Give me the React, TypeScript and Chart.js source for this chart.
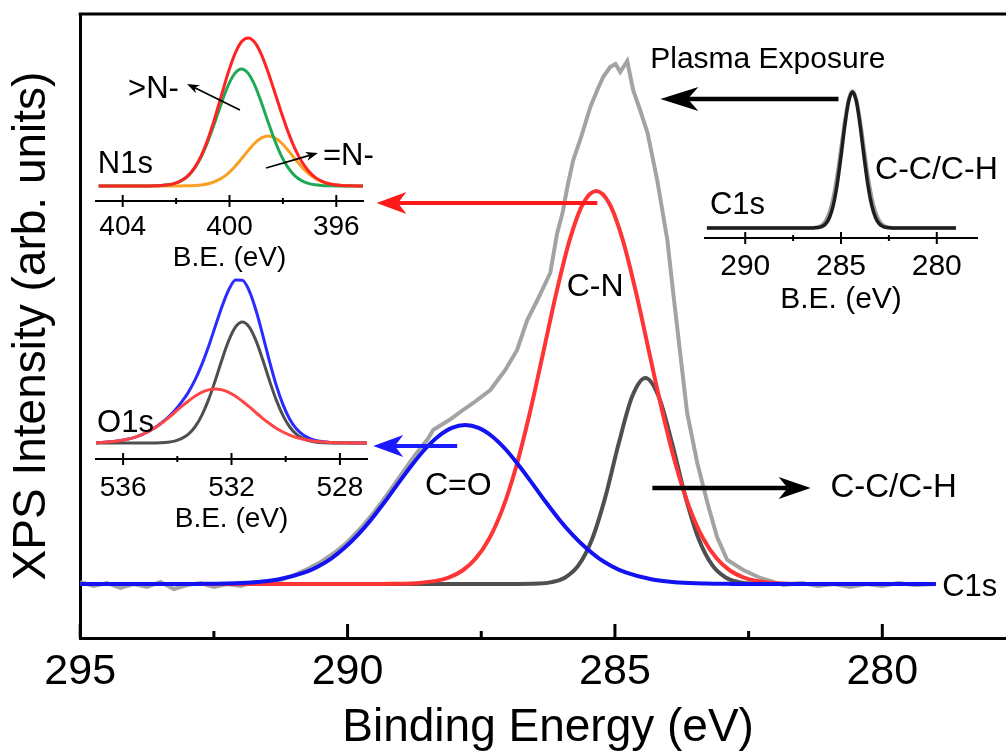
import React, { useEffect, useRef } from 'react';
import { Chart, registerables } from 'chart.js';
Chart.register(...registerables);

const FONT = '"Liberation Sans", Arial, Helvetica, sans-serif';
Chart.defaults.font.family = FONT;
Chart.defaults.color = '#000';

// ---------- Main C1s spectrum (binding energy in eV, intensity in arb. units) ----------
const rawBE = [295.00,294.75,294.50,294.25,294.00,293.75,293.50,293.25,293.00,292.75,292.50,292.25,292.00,291.75,291.50,291.25,291.00,290.75,290.50,290.25,290.00,289.75,289.50,289.25,289.00,288.75,288.50,288.40,288.10,287.84,287.65,287.33,287.05,286.83,286.64,286.45,286.21,286.08,285.98,285.89,285.78,285.65,285.46,285.33,285.22,285.09,284.99,284.90,284.77,284.66,284.53,284.39,284.21,284.02,283.91,283.83,283.65,283.46,283.27,283.09,282.90,282.60,282.28,281.85,281.50,281.20,280.90,280.60,280.30,280.00,279.70,279.40,279.00];
const rawI = [2,-2,1,-4,0,-3,2,-5,-1,1,-3,0,-2,2,1,4,9,15,22,31,42,56,72,90,109,128,145,154,164,174,181,194,214,234,264,284,311,351,371,397,424,444,477,494,507,517,520,512,523,494,474,451,404,344,291,254,171,121,81,47,24,14,6,-1,1,-2,0,-3,0,-2,1,-1,0];

const coBE = [295.0,293.0,292.8,292.3,291.8,291.3,290.8,290.55,290.3,290.05,289.8,289.55,289.3,289.05,288.8,288.55,288.3,288.05,287.8,287.55,287.3,287.05,286.8,286.55,286.3,286.05,285.8,285.55,285.3,285.05,284.8,284.3,283.8,283.3,282.8,282.0,279.0];
const coI = [0,0,0.1,0.4,1.5,4.5,11.6,17.6,25.7,36.4,49.6,65.1,82.5,100.9,118.8,135.0,147.8,156.1,159,156.1,147.8,135.0,118.8,100.9,82.5,65.1,49.6,36.4,25.7,17.6,11.6,4.5,1.5,0.4,0.1,0,0];

const cnBE = [295.0,290.0,289.35,288.85,288.35,288.10,287.85,287.60,287.35,287.10,286.85,286.60,286.35,286.10,285.85,285.60,285.35,285.10,284.85,284.60,284.35,284.10,283.85,283.60,283.35,283.10,282.85,282.60,282.35,281.85,281.35,279.0];
const cnI = [0,0,0.1,0.5,3.1,6.7,13.5,25.7,45.5,75.4,116.8,169.3,229.2,290.2,343.4,380.0,393,380.0,343.4,290.2,229.2,169.3,116.8,75.4,45.5,25.7,13.5,6.7,3.1,0.5,0.1,0];

const ccBE = [295.0,287.0,286.43,286.18,285.93,285.68,285.43,285.18,284.93,284.68,284.43,284.18,283.93,283.68,283.43,283.18,282.93,282.68,282.43,281.8,279.0];
const ccI = [0,0,0.4,1.9,6.5,18.8,44.5,86.9,140.4,187.2,206,187.2,140.4,86.9,44.5,18.8,6.5,1.9,0.4,0,0];

const mainMajorTicks = [295, 290, 285, 280];
const mainMinorTicks = [292.5, 287.5, 282.5];

// ---------- N1s inset ----------
const n1BE = [404.9,403.55,403.05,402.80,402.55,402.30,402.05,401.80,401.55,401.30,401.05,400.80,400.55,400.30,400.05,399.80,399.55,399.30,399.05,398.80,398.55,398.30,398.05,397.80,397.55,397.30,397.05,396.80,396.55,396.30,396.05,395.80,395.55,395.0];
const n1GreenI = [0,0,0.1,0.2,0.5,1.2,2.6,5.4,10.2,18.1,29.7,45.2,63.6,83.1,100.5,112.6,117,112.6,100.5,83.1,63.6,45.2,29.7,18.1,10.2,5.4,2.6,1.2,0.5,0.2,0.1,0,0,0];
const n1OrangeI = [0,0,0,0,0,0,0,0.1,0.2,0.5,1.1,2.3,4.4,7.7,12.7,19.3,27.2,35.5,43.0,48.1,50,48.1,43.0,35.5,27.2,19.3,12.7,7.7,4.4,2.3,1.1,0.5,0.2,0];
const n1RedI = [0,0,0.1,0.2,0.5,1.2,2.6,5.5,10.4,18.6,30.8,47.5,68.0,90.8,113.2,131.9,144.2,148.1,143.5,131.2,113.6,93.3,72.7,53.6,37.4,24.7,15.3,8.9,4.9,2.5,1.2,0.5,0.2,0];
const n1MajorTicks = [404, 400, 396];
const n1MinorTicks = [402, 398];

// ---------- O1s inset ----------
const o1BE = [537.0,536.85,536.60,536.35,536.10,535.85,535.60,535.35,535.10,534.85,534.60,534.35,534.10,533.85,533.60,533.35,533.10,532.85,532.60,532.35,532.10,531.85,531.60,531.35,531.10,530.85,530.60,530.35,530.10,529.85,529.60,529.35,529.10,528.85,528.60,528.35,528.10,527.85,527.60,527.0];
const o1BlueI = [0.3,0.5,0.9,1.5,2.4,3.7,5.4,7.8,11.0,14.9,19.8,25.5,32.3,40.6,50.4,62.8,78.1,96.2,116.5,136.6,153.3,162.9,162.8,152.4,133.0,108.2,82.0,57.9,38.4,23.8,14.0,8.0,4.3,2.3,1.2,0.6,0.3,0.2,0.1,0];
const o1GreyI = [0,0,0,0,0,0,0,0,0,0.1,0.3,0.8,1.9,4.3,8.6,16.0,27.4,43.1,62.5,83.5,102.6,116.1,121,116.1,102.6,83.5,62.5,43.1,27.4,16.0,8.6,4.3,1.9,0.8,0.3,0.1,0,0,0,0];
const o1RedI = [0.3,0.5,0.9,1.5,2.4,3.7,5.4,7.8,11.0,14.8,19.5,24.7,30.4,36.3,41.8,46.8,50.7,53.1,54,53.1,50.7,46.8,41.8,36.3,30.4,24.7,19.5,14.8,11.0,7.8,5.4,3.7,2.4,1.5,0.9,0.5,0.3,0.2,0.1,0];
const o1MajorTicks = [536, 532, 528];
const o1MinorTicks = [534, 530];

// ---------- C1s inset (before plasma exposure) ----------
const c1BE = [292.0,287.0,286.6,286.4,286.2,286.0,285.8,285.6,285.4,285.2,285.0,284.8,284.6,284.4,284.2,284.0,283.8,283.6,283.4,283.2,283.0,282.8,282.6,282.4,282.2,281.8,279.0];
const c1FitI = [0,0,0,0.1,0.4,1.4,4.1,10.5,22.9,43.5,71.6,102.3,126.6,136,126.6,102.3,71.6,43.5,22.9,10.5,4.1,1.4,0.4,0.1,0,0,0];
const c1RawI = [0,0,0.1,0.4,1.1,3.0,7.4,16.1,31.0,52.9,80.2,108.0,129.1,137,129.1,108.0,80.2,52.9,31.0,16.1,7.4,3.0,1.1,0.4,0.1,0,0];
const c1MajorTicks = [290, 285, 280];
const c1MinorTicks = [287.5, 282.5];

const pts = (xs: number[], ys: number[]) => xs.map((x, i) => ({ x, y: ys[i] }));

function line(data: any, color: string, width: number, order: number, smooth = true) {
  return {
    data,
    borderColor: color,
    borderWidth: width,
    pointRadius: 0,
    fill: false,
    order,
    tension: 0,
    cubicInterpolationMode: smooth ? 'monotone' : 'default',
  };
}

function drawArrow(ctx: CanvasRenderingContext2D, x1: number, y1: number, x2: number, y2: number, color: string, lw: number, hl: number, hw: number) {
  const dx = x2 - x1, dy = y2 - y1;
  const len = Math.hypot(dx, dy);
  const ux = dx / len, uy = dy / len;
  const nx = -uy, ny = ux;
  const bx = x2 - ux * hl, by = y2 - uy * hl;
  const mx = x2 - ux * hl * 0.72, my = y2 - uy * hl * 0.72;
  ctx.save();
  ctx.strokeStyle = color;
  ctx.fillStyle = color;
  ctx.lineWidth = lw;
  ctx.beginPath();
  ctx.moveTo(x1, y1);
  ctx.lineTo(mx, my);
  ctx.stroke();
  ctx.beginPath();
  ctx.moveTo(x2, y2);
  ctx.lineTo(bx + nx * hw, by + ny * hw);
  ctx.lineTo(mx, my);
  ctx.lineTo(bx - nx * hw, by - ny * hw);
  ctx.closePath();
  ctx.fill();
  ctx.restore();
}

type Note =
  | { kind: 'text'; x: number; y: number; text: string; size: number; align?: CanvasTextAlign }
  | { kind: 'arrow'; x1: number; y1: number; x2: number; y2: number; color: string; lw: number; hl: number; hw: number };

function makeNotes(items: Note[]) {
  return {
    id: 'notes',
    afterDraw(chart: any) {
      const { ctx } = chart;
      const xs = chart.scales.x, ys = chart.scales.y;
      for (const it of items) {
        if (it.kind === 'text') {
          ctx.save();
          ctx.font = `${it.size}px ${FONT}`;
          ctx.fillStyle = '#000';
          ctx.textAlign = it.align || 'left';
          ctx.textBaseline = 'middle';
          ctx.fillText(it.text, xs.getPixelForValue(it.x), ys.getPixelForValue(it.y));
          ctx.restore();
        } else {
          drawArrow(ctx, xs.getPixelForValue(it.x1), ys.getPixelForValue(it.y1), xs.getPixelForValue(it.x2), ys.getPixelForValue(it.y2), it.color, it.lw, it.hl, it.hw);
        }
      }
    },
  };
}

function makeTicks(major: number[], minor: number[], majUp: number, majDown: number, minUp: number, minDown: number, width: number) {
  return {
    id: 'inTicks',
    afterDraw(chart: any) {
      const { ctx, chartArea } = chart;
      const xs = chart.scales.x;
      const y0 = chartArea.bottom;
      ctx.save();
      ctx.strokeStyle = '#000';
      ctx.lineWidth = width;
      const draw = (v: number, up: number, down: number) => {
        const px = xs.getPixelForValue(v);
        ctx.beginPath();
        ctx.moveTo(px, y0 - up);
        ctx.lineTo(px, y0 + down);
        ctx.stroke();
      };
      major.forEach((v) => draw(v, majUp, majDown));
      minor.forEach((v) => draw(v, minUp, minDown));
      ctx.restore();
    },
  };
}

const framePlugin = {
  id: 'frame',
  afterDraw(chart: any) {
    const { ctx, chartArea } = chart;
    ctx.save();
    ctx.strokeStyle = '#000';
    ctx.lineWidth = 3;
    ctx.beginPath();
    ctx.moveTo(chartArea.left - 1.5, chartArea.top);
    ctx.lineTo(chartArea.right, chartArea.top);
    ctx.lineTo(chartArea.right, chartArea.bottom);
    ctx.stroke();
    ctx.restore();
  },
};

function mainConfig(): any {
  return {
    type: 'line',
    data: {
      datasets: [
        line(pts(coBE, coI), '#1212f2', 4, 1),
        line(pts(cnBE, cnI), '#ff3535', 4, 2),
        line(pts(ccBE, ccI), '#4f4f4f', 4, 3),
        line(pts(rawBE, rawI), '#a3a3a3', 4, 4, false),
      ],
    },
    options: {
      animation: false,
      responsive: false,
      maintainAspectRatio: false,
      events: [],
      layout: { padding: { left: 0, right: 4, top: 14, bottom: 0 } },
      plugins: { legend: { display: false }, tooltip: { enabled: false } },
      scales: {
        x: {
          type: 'linear',
          reverse: true,
          min: 277.5,
          max: 295,
          afterBuildTicks: (s: any) => { s.ticks = mainMajorTicks.map((v) => ({ value: v })); },
          ticks: { font: { size: 43, lineHeight: 1.2 }, color: '#000', padding: 0, autoSkip: false, maxRotation: 0 },
          grid: { display: false, drawTicks: true, tickLength: 8.2 },
          border: { display: true, color: '#000', width: 3 },
          title: { display: true, text: 'Binding Energy (eV)', color: '#000', font: { size: 46, lineHeight: 1.2 }, padding: { top: 3, bottom: 0 } },
        },
        y: {
          type: 'linear',
          min: -54,
          max: 570,
          ticks: { display: false },
          grid: { display: false, drawTicks: false },
          border: { display: true, color: '#000', width: 3 },
          title: { display: true, text: 'XPS Intensity (arb. units)', color: '#000', font: { size: 46, lineHeight: 1.2 }, padding: { top: 5, bottom: 20 } },
        },
      },
    },
    plugins: [
      framePlugin,
      makeTicks(mainMajorTicks, mainMinorTicks, 14, 0, 7, 0, 3),
      makeNotes([
        { kind: 'text', x: 278.88, y: -3, text: 'C1s', size: 31 },
        { kind: 'arrow', x1: 284.30, y1: 96, x2: 281.34, y2: 96, color: '#000', lw: 4.5, hl: 32, hw: 11 },
        { kind: 'text', x: 280.97, y: 96, text: 'C-C/C-H', size: 33 },
        { kind: 'text', x: 287.93, y: 98, text: 'C=O', size: 32, align: 'center' },
        { kind: 'text', x: 285.37, y: 297, text: 'C-N', size: 32, align: 'center' },
        { kind: 'arrow', x1: 285.33, y1: 381, x2: 289.46, y2: 381, color: '#ff1a1a', lw: 4, hl: 30, hw: 11 },
        { kind: 'arrow', x1: 287.95, y1: 138, x2: 289.52, y2: 138, color: '#1a1aff', lw: 4, hl: 30, hw: 11 },
        { kind: 'arrow', x1: 280.82, y1: 485, x2: 284.15, y2: 485, color: '#000', lw: 4.5, hl: 38, hw: 12 },
        { kind: 'text', x: 284.34, y: 524, text: 'Plasma Exposure', size: 30 },
      ]),
    ],
  };
}

function insetConfig(p: any): any {
  return {
    type: 'line',
    data: { datasets: p.datasets },
    options: {
      animation: false,
      responsive: false,
      maintainAspectRatio: false,
      events: [],
      layout: { padding: p.padding },
      plugins: { legend: { display: false }, tooltip: { enabled: false } },
      scales: {
        x: {
          type: 'linear',
          reverse: true,
          min: p.xmin,
          max: p.xmax,
          afterBuildTicks: (s: any) => { s.ticks = p.major.map((v: number) => ({ value: v })); },
          ticks: { font: { size: p.font, lineHeight: 1.2 }, color: '#000', padding: 0, autoSkip: false, maxRotation: 0 },
          grid: { display: false, drawTicks: true, tickLength: p.tickLen },
          border: { display: true, color: '#000', width: 2 },
          title: { display: true, text: 'B.E. (eV)', color: '#000', font: { size: p.font, lineHeight: 1.0 }, padding: { top: 0, bottom: 0 } },
        },
        y: { type: 'linear', display: false, min: p.ymin, max: p.ymax },
      },
    },
    plugins: [makeTicks(p.major, p.minor, 6, 6, 3, 3, 2), makeNotes(p.notes)],
  };
}

export default function App() {
  const mainRef = useRef<HTMLCanvasElement>(null);
  const n1Ref = useRef<HTMLCanvasElement>(null);
  const o1Ref = useRef<HTMLCanvasElement>(null);
  const c1Ref = useRef<HTMLCanvasElement>(null);

  useEffect(() => {
    const charts: Chart[] = [];
    charts.push(new Chart(mainRef.current as HTMLCanvasElement, mainConfig()));
    charts.push(
      new Chart(n1Ref.current as HTMLCanvasElement, insetConfig({
        datasets: [
          line(pts(n1BE, n1RedI), '#ff2424', 3, 1),
          line(pts(n1BE, n1GreenI), '#1fa855', 3, 2),
          line(pts(n1BE, n1OrangeI), '#f9a023', 3, 3),
        ],
        xmin: 395, xmax: 405, ymin: -15, ymax: 156,
        major: n1MajorTicks, minor: n1MinorTicks,
        padding: { left: 56, right: 17, top: 10, bottom: 8.2 },
        font: 28, tickLen: 9.2,
        notes: [
          { kind: 'text', x: 404.93, y: 22, text: 'N1s', size: 31 },
          { kind: 'text', x: 403.80, y: 97, text: '>N-', size: 31 },
          { kind: 'text', x: 396.50, y: 30, text: '=N-', size: 31 },
          { kind: 'arrow', x1: 399.61, y1: 76, x2: 401.59, y2: 102, color: '#000', lw: 1.8, hl: 12, hw: 4.5 },
          { kind: 'arrow', x1: 398.63, y1: 18, x2: 396.69, y2: 33, color: '#000', lw: 1.8, hl: 12, hw: 4.5 },
        ],
      }))
    );
    charts.push(
      new Chart(o1Ref.current as HTMLCanvasElement, insetConfig({
        datasets: [
          line(pts(o1BE, o1RedI), '#ff4545', 3, 1),
          line(pts(o1BE, o1GreyI), '#4f4f4f', 3, 2),
          line(pts(o1BE, o1BlueI), '#2b2bff', 3, 3),
        ],
        xmin: 527, xmax: 537, ymin: -16, ymax: 183,
        major: o1MajorTicks, minor: o1MinorTicks,
        padding: { left: 56, right: 18, top: 10, bottom: 7.2 },
        font: 28, tickLen: 12.2,
        notes: [{ kind: 'text', x: 536.96, y: 20, text: 'O1s', size: 31 }],
      }))
    );
    charts.push(
      new Chart(c1Ref.current as HTMLCanvasElement, insetConfig({
        datasets: [
          line(pts(c1BE, c1FitI), '#1e1e1e', 3.5, 1),
          line(pts(c1BE, c1RawI), '#9a9a9a', 3.5, 2),
        ],
        xmin: 277.9, xmax: 292.1, ymin: -10, ymax: 148,
        major: c1MajorTicks, minor: c1MinorTicks,
        padding: { left: 45, right: 29, top: 20, bottom: 15 },
        font: 30, tickLen: 11,
        notes: [
          { kind: 'text', x: 291.84, y: 23, text: 'C1s', size: 31 },
          { kind: 'text', x: 283.22, y: 58, text: 'C-C/C-H', size: 32 },
        ],
      }))
    );
    return () => charts.forEach((c) => c.destroy());
  }, []);

  const abs = (l: number, t: number, w: number, h: number): React.CSSProperties => ({ position: 'absolute', left: l, top: t, width: w, height: h });

  return (
    <div style={{ position: 'fixed', left: 0, top: 0, width: 1006, height: 756, overflow: 'hidden', background: '#fff' }}>
      <canvas ref={mainRef} width={1020} height={756} style={abs(0, 0, 1020, 756)} />
      <canvas ref={n1Ref} width={340} height={260} style={abs(40, 20, 340, 260)} />
      <canvas ref={o1Ref} width={345} height={290} style={abs(40, 250, 345, 290)} />
      <canvas ref={c1Ref} width={346} height={270} style={abs(660, 60, 346, 270)} />
    </div>
  );
}
